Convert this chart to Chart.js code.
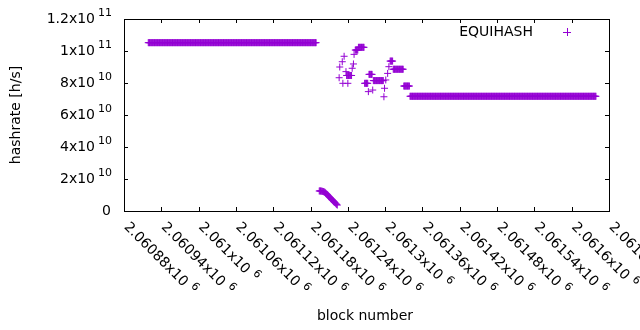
<!DOCTYPE html>
<html>
<head>
<meta charset="utf-8">
<script src="https://cdn.jsdelivr.net/npm/chart.js@4/dist/chart.umd.min.js"></script>
<style>
  html, body { margin: 0; padding: 0; background: #fff; }
</style>
</head>
<body>
<canvas id="chart" width="640" height="330"></canvas>
<script>
// block number axis ticks (shown as mantissa x10^6)
const xTicks = [2060880, 2060940, 2061000, 2061060, 2061120, 2061180, 2061240,
                2061300, 2061360, 2061420, 2061480, 2061540, 2061600, 2061660];
const xTickLabels = ['2.06088', '2.06094', '2.061', '2.06106', '2.06112', '2.06118', '2.06124',
                     '2.0613', '2.06136', '2.06142', '2.06148', '2.06154', '2.0616', '2.06166'];
const yTicks = [0, 2e10, 4e10, 6e10, 8e10, 1e11, 1.2e11];
const yTickMant = ['0', '2', '4', '6', '8', '1', '1.2'];
const yTickExp = ['', '10', '10', '10', '10', '11', '11'];

// runs of consecutive blocks with a flat hashrate (x10^10 h/s)
const runStart = [2060919, 2061238, 2061252, 2061257, 2061267, 2061274, 2061281, 2061308, 2061313, 2061330, 2061340];
const runEnd   = [2061189, 2061246, 2061256, 2061266, 2061272, 2061279, 2061297, 2061312, 2061329, 2061339, 2061639];
const runValue = [10.52, 8.47, 10.06, 10.23, 7.98, 8.54, 8.15, 9.37, 8.86, 7.81, 7.17];

// the falling trail after the first run (one value per block, x10^10 h/s)
const trailFirstBlock = 2061194;
const trailValue = [1.25, 1.26, 1.25, 1.25, 1.24, 1.23, 1.22, 1.21, 1.19, 1.17,
                    1.13, 1.10, 1.06, 1.02, 0.98, 0.93, 0.89, 0.85, 0.81, 0.77,
                    0.73, 0.69, 0.65, 0.61, 0.57, 0.53, 0.49, 0.45, 0.41, 0.37];

// scattered single blocks (x10^10 h/s)
const singleBlock = [2061226, 2061227, 2061231, 2061232, 2061234, 2061237, 2061240, 2061247, 2061249,
                     2061250, 2061273, 2061280, 2061298, 2061299, 2061301, 2061304, 2061306];
const singleValue = [8.33, 9.0, 9.33, 7.98, 9.67, 8.71, 7.98, 8.92, 9.19,
                     9.79, 7.46, 7.56, 7.14, 7.67, 8.19, 8.6, 9.02];

const E10 = 1e10;
const points = [];
runStart.forEach((s, i) => {
    for (let b = s; b <= runEnd[i]; b++) points.push({x: b, y: runValue[i] * E10});
});
trailValue.forEach((v, i) => points.push({x: trailFirstBlock + i, y: v * E10}));
singleBlock.forEach((b, i) => points.push({x: b, y: singleValue[i] * E10}));

const purple = '#9400d3';
const mainFont = '14px "DejaVu Sans"';
const supFont = '11px "DejaVu Sans"';

const gnuplotFrame = {
    id: 'gnuplotFrame',
    afterDraw(chart) {
        const c = chart.ctx;
        const {left, right, top, bottom} = chart.chartArea;
        const xs = chart.scales.x, ys = chart.scales.y;
        c.save();
        c.strokeStyle = '#000';
        c.lineWidth = 1;
        c.strokeRect(left + 0.5, top + 0.5, right - left, bottom - top);

        // ticks, mirrored inward on all sides
        c.beginPath();
        xTicks.forEach(v => {
            const px = Math.round(xs.getPixelForValue(v)) + 0.5;
            c.moveTo(px, bottom); c.lineTo(px, bottom - 4);
            c.moveTo(px, top); c.lineTo(px, top + 4);
        });
        yTicks.forEach(v => {
            const py = Math.round(ys.getPixelForValue(v)) + 0.5;
            c.moveTo(left, py); c.lineTo(left + 4, py);
            c.moveTo(right, py); c.lineTo(right - 4, py);
        });
        c.stroke();

        c.fillStyle = '#000';
        // y tick labels
        yTicks.forEach((v, i) => {
            const py = Math.round(ys.getPixelForValue(v)) + 0.5;
            const labelRight = 112;
            c.textBaseline = 'middle';
            c.textAlign = 'right';
            if (yTickExp[i] === '') {
                c.font = mainFont;
                c.fillText(yTickMant[i], labelRight - 1, py);
                return;
            }
            c.font = supFont;
            const supW = c.measureText(yTickExp[i]).width;
            c.fillText(yTickExp[i], labelRight, py - 6);
            c.font = mainFont;
            c.fillText(yTickMant[i] + 'x10', labelRight - supW - 3, py);
        });

        // x tick labels, rotated by -45 (gnuplot sense)
        xTicks.forEach((v, i) => {
            const px = xs.getPixelForValue(v);
            c.save();
            c.translate(px + 2, bottom + 14);
            c.rotate(Math.PI / 4);
            c.textAlign = 'left';
            c.textBaseline = 'middle';
            c.font = mainFont;
            const txt = xTickLabels[i] + 'x10';
            const w = c.measureText(txt).width;
            c.fillText(txt, 0, 0);
            c.font = supFont;
            c.fillText('6', w + 5, -5);
            c.restore();
        });

        // axis titles
        c.font = mainFont;
        c.textAlign = 'center';
        c.textBaseline = 'middle';
        c.fillText('block number', 365, 316);
        c.save();
        c.translate(16, 115);
        c.rotate(-Math.PI / 2);
        c.fillText('hashrate [h/s]', 0, 0);
        c.restore();

        // key
        c.textAlign = 'right';
        c.fillText('EQUIHASH', 533, 32);
        c.strokeStyle = purple;
        c.beginPath();
        c.moveTo(563, 32.5); c.lineTo(571, 32.5);
        c.moveTo(567.5, 28); c.lineTo(567.5, 36);
        c.stroke();
        c.restore();
    }
};

new Chart(document.getElementById('chart'), {
    type: 'scatter',
    data: {
        datasets: [{
            label: 'EQUIHASH',
            data: points,
            pointStyle: 'cross',
            radius: 3.5,
            hoverRadius: 3.5,
            borderWidth: 1,
            borderColor: purple,
            backgroundColor: purple,
            showLine: false
        }]
    },
    plugins: [gnuplotFrame],
    options: {
        responsive: false,
        animation: false,
        devicePixelRatio: 1,
        layout: {
            padding: {left: 124, right: 31, top: 19, bottom: 119}
        },
        scales: {
            x: {
                type: 'linear',
                display: false,
                min: 2060880,
                max: 2061660
            },
            y: {
                type: 'linear',
                display: false,
                min: 0,
                max: 1.2e11
            }
        },
        plugins: {
            legend: {display: false},
            tooltip: {enabled: false}
        }
    }
});
</script>
</body>
</html>
